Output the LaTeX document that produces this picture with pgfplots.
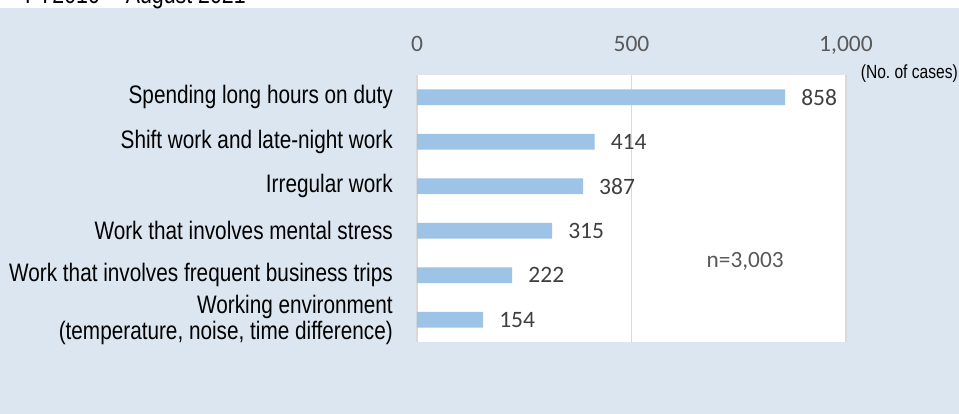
\documentclass[border=0pt]{standalone}
\usepackage{fontspec}
\setmainfont{Liberation Sans}
\newfontfamily\narrow[FakeStretch=0.82]{Liberation Sans}
\newfontfamily\carl{Carlito}
\usepackage{pgfplots}
\pgfplotsset{compat=1.18}
\definecolor{bg}{HTML}{DCE6F1}
\definecolor{barc}{HTML}{9DC3E6}
\definecolor{gridc}{HTML}{D9D9D9}
\definecolor{tickc}{HTML}{595959}
\definecolor{valc}{HTML}{404040}
\begin{document}
\begin{tikzpicture}[x=1pt,y=1pt]
\useasboundingbox (0,0) rectangle (959,414);
\fill[white] (0,0) rectangle (959,414);
\fill[bg] (0,0) rectangle (959,406);
\node[anchor=base west, inner sep=0pt, font=\narrow\fontsize{26}{30}\selectfont] at (25,410) {FY2010 -- August 2021};
\begin{axis}[
  at={(417pt,72pt)}, anchor=south west,
  scale only axis, width=429pt, height=267pt,
  xmin=0, xmax=1000, ymin=-0.5, ymax=5.5, y dir=reverse,
  axis background/.style={fill=white},
  axis line style={draw=none},
  major tick length=0pt,
  /pgf/number format/assume math mode=true,
  xtick={0,500,1000}, xticklabels={0,500,{1,000}},
  xticklabel pos=top,
  xticklabel style={font=\carl\fontsize{23.5}{28}\selectfont, text=tickc, anchor=base, inner sep=0pt, yshift=23.5pt},
  xmajorgrids, grid style={gridc, line width=1.2pt},
  ytick={0,1,2,3,4,5},
  yticklabels={Spending long hours on duty, Shift work and late-night work, Irregular work, Work that involves mental stress, Work that involves frequent business trips, {Working environment\\(temperature, noise, time difference)}},
  yticklabel style={font=\narrow\fontsize{25.3}{25.5}\selectfont, align=right, anchor=east, inner sep=0pt, xshift=-24pt, text=black},
  xbar, bar width=15.7pt,
  nodes near coords,
  nodes near coords style={font=\carl\fontsize{23.5}{28}\selectfont, text=valc, anchor=west, inner sep=0pt, xshift=16pt},
  clip=false,
]
\addplot[fill=barc, draw=none] coordinates {(858,0) (414,1) (387,2) (315,3) (222,4) (154,5)};
\node[font=\carl\fontsize{23.3}{28}\selectfont, text=tickc] at (axis cs:765,3.7) {n=3,003};
\end{axis}
\node[anchor=east, inner sep=0pt, font=\narrow\fontsize{19}{22}\selectfont] at (958,340) {(No.\ of cases)};
\end{tikzpicture}
\end{document}
